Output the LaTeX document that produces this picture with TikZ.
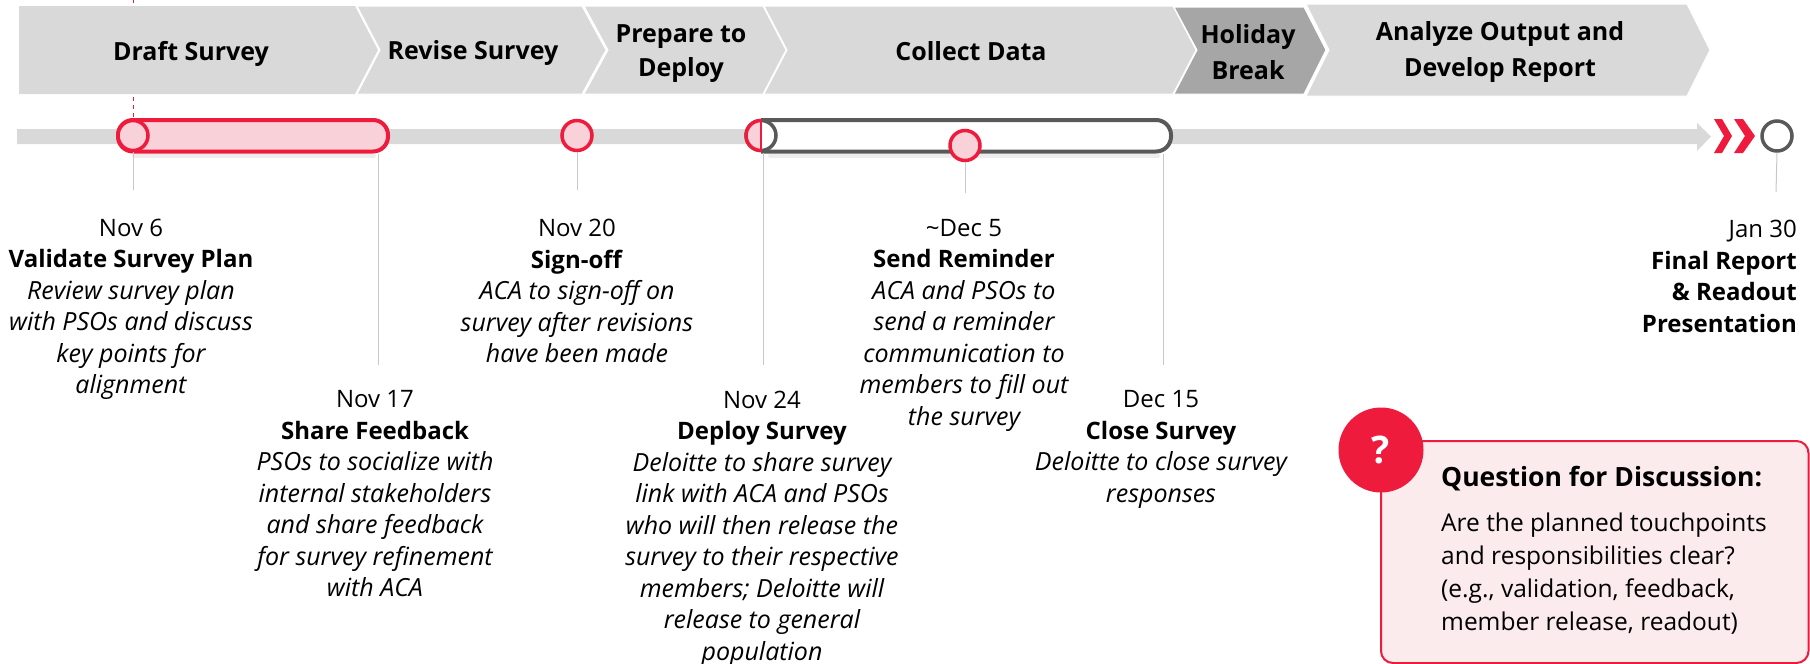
\documentclass[tikz,border=0pt]{standalone}
\usepackage{fontspec}
\setmainfont{Open Sans}
\definecolor{dred}{HTML}{EE1B3D}
\definecolor{dpink}{HTML}{F9D1D8}
\definecolor{cardpink}{HTML}{FCEBEC}
\definecolor{bargray}{HTML}{D9D9D9}
\definecolor{holgray}{HTML}{A6A6A6}
\definecolor{pillgray}{HTML}{595959}
\definecolor{tickgray}{HTML}{C8C8C8}
\newcommand{\chevshape}[7]{% x0 notch x1 tip top bot colour
  \fill[#7,draw=white,line width=1pt] (#1,#5) -- (#3,#5) -- (#4,50) -- (#3,#6) -- (#1,#6) -- (#2,50) -- cycle;}
\newcommand{\itl}[1]{{\fontsize{25}{31.5}\selectfont\itshape #1}}
\tikzset{
  x=1pt,y=-1pt,
  chevlabel/.style={font=\fontsize{25}{34}\selectfont\bfseries,align=center,inner sep=0pt,text=black},
  chevlabelwide/.style={font=\fontsize{25}{36.5}\selectfont\bfseries,align=center,inner sep=0pt,text=black},
  datelabel/.style={font=\fontsize{24}{31.5}\selectfont,align=center,inner sep=0pt,anchor=north,text=black},
  datelabelR/.style={font=\fontsize{24}{31.5}\selectfont,align=right,inner sep=0pt,anchor=north east,text=black},
  redring/.style={circle,draw=dred,fill=dpink,line width=3.5pt,minimum size=30pt,inner sep=0pt},
  grayring/.style={circle,draw=pillgray,fill=white,line width=3.5pt,minimum size=30pt,inner sep=0pt},
  tick/.style={draw=tickgray,line width=1pt},
  pillshadow/.style={draw=black,opacity=0.07,line width=4pt,line cap=round},
}
\begin{document}
\begin{tikzpicture}
\useasboundingbox (0,0) rectangle (1810,664);
% chevrons
\fill[bargray] (19,6) -- (355,6) -- (378,50) -- (355,94) -- (19,94) -- cycle;
\chevshape{357}{380}{582}{606}{6}{94}{bargray}
\chevshape{584}{608}{763}{786}{6}{94}{bargray}
\chevshape{764}{787}{1173}{1196}{6}{94}{bargray}
\chevshape{1306}{1329}{1687}{1710}{4}{96}{bargray}
\chevshape{1174}{1197}{1304}{1326}{7}{94}{holgray}
\node[chevlabel] (c1) at (191,53.5) {Draft Survey};
\node[chevlabel] (c2) at (473,53.5) {Revise Survey};
\node[chevlabel] (c3) at (681,53.5) {Prepare to\\Deploy};
\node[chevlabel] (c4) at (971,51.5) {Collect Data};
\node[chevlabelwide] (c5) at (1248,52) {Holiday\\Break};
\node[chevlabelwide] (c6) at (1500,52) {Analyze Output and\\Develop Report};
% timeline
\fill[bargray] (17,129) -- (1697,129) -- (1697,123) -- (1711,136.5) -- (1697,151) -- (1697,144) -- (17,144) -- cycle;
% red dashed
\coordinate (dashtop) at (133,0);
\coordinate (dashstub) at (133,3);
\coordinate (dashmid) at (133,97);
% pills
\draw[pillshadow] (134,156) -- (374,156);
\draw[pillshadow] (770,156) -- (1158,156);
\fill[dpink,draw=dred,line width=4pt,rounded corners=15pt] (118,120) rectangle (388,151.5);
\path[fill=white,draw=pillgray,line width=4pt,rounded corners=15pt] (761,120) -- (1171,120) -- (1171,151.5) -- (761,151.5);
% rings
\node[redring] (n1) at (133,135.5) {};
\node[redring] (n3) at (577,135.5) {};
\node[grayring] (n4g) at (761,135.5) {};
\begin{scope}
\clip (740,110) rectangle (761,160);
\node[redring] (n4) at (761,135.5) {};
\end{scope}
\draw[dred,line width=2.5pt] (761,119) -- (761,152);
\node[redring] (n5) at (965,145.5) {};
\node[grayring] (n7) at (1777,136) {};
% red chevrons
\fill[dred] (1714,119) -- (1722,119) -- (1732,136) -- (1722,153) -- (1714,153) -- (1724,136) -- cycle;
\fill[dred] (1734,119) -- (1743,119) -- (1755,136) -- (1743,153) -- (1734,153) -- (1745,136) -- cycle;
\draw[dred,line width=1pt,dash pattern=on 4pt off 4pt] (dashtop) -- (dashstub);
\draw[dred,line width=1pt,dash pattern=on 4pt off 4pt] (dashmid) -- (n1.north);
% ticks
\coordinate (t1) at (133,190);
\coordinate (t2a) at (378,154);
\coordinate (t2) at (378,365);
\coordinate (t3) at (577,190);
\coordinate (t4a) at (763,153);
\coordinate (t4) at (763,365);
\coordinate (t5) at (965,193);
\coordinate (t6a) at (1163,154);
\coordinate (t6) at (1163,365);
\coordinate (t7) at (1776,192);
\draw[tick] (n1.south) -- (t1);
\draw[tick] (t2a) -- (t2);
\draw[tick] (n3.south) -- (t3);
\draw[tick] (t4a) -- (t4);
\draw[tick] (n5.south) -- (t5);
\draw[tick] (t6a) -- (t6);
\draw[tick] (n7.south) -- (t7);
% date labels
\node[datelabel] (d1) at (131,218.5) {Nov 6\\\textbf{Validate Survey Plan}\\\itl{Review survey plan}\\\itl{with PSOs and discuss}\\\itl{key points for}\\\itl{alignment}};
\node[datelabel] (d2) at (375,390.5) {Nov 17\\\textbf{Share Feedback}\\\itl{PSOs to socialize with}\\\itl{internal stakeholders}\\\itl{and share feedback}\\\itl{for survey refinement}\\\itl{with ACA}};
\node[datelabel] (d3) at (577,219) {Nov 20\\\textbf{Sign-off}\\\itl{ACA to sign-off on}\\\itl{survey after revisions}\\\itl{have been made}};
\node[datelabel] (d4) at (762,390.5) {Nov 24\\\textbf{Deploy Survey}\\\itl{Deloitte to share survey}\\\itl{link with ACA and PSOs}\\\itl{who will then release the}\\\itl{survey to their respective}\\\itl{members; Deloitte will}\\\itl{release to general}\\\itl{population}};
\node[datelabel] (d5) at (964,219) {\textasciitilde Dec 5\\\textbf{Send Reminder}\\\itl{ACA and PSOs to}\\\itl{send a reminder}\\\itl{communication to}\\\itl{members to fill out}\\\itl{the survey}};
\node[datelabel] (d6) at (1161,390.5) {Dec 15\\\textbf{Close Survey}\\\itl{Deloitte to close survey}\\\itl{responses}};
\node[datelabelR] (d7) at (1797,220) {Jan 30\\\textbf{Final Report}\\\textbf{\& Readout}\\\textbf{Presentation}};
% card
\fill[cardpink,draw=dred,line width=2pt,rounded corners=12pt] (1381,441) rectangle (1808.5,663);
\node[circle,fill=dred,minimum size=85pt,inner sep=0pt,text=white,font=\fontsize{38}{40}\selectfont\bfseries] (q) at (1381,450) {?};
\node[anchor=base west,inner sep=0pt,font=\fontsize{26.5}{30}\selectfont\bfseries] (h) at (1441,486) {Question for Discussion:};
\node[anchor=base west,inner sep=0pt,font=\fontsize{24.5}{33}\selectfont,align=left] (b) at (1441,630) {Are the planned touchpoints\\and responsibilities clear?\\(e.g., validation, feedback,\\member release, readout)};
\end{tikzpicture}
\end{document}
